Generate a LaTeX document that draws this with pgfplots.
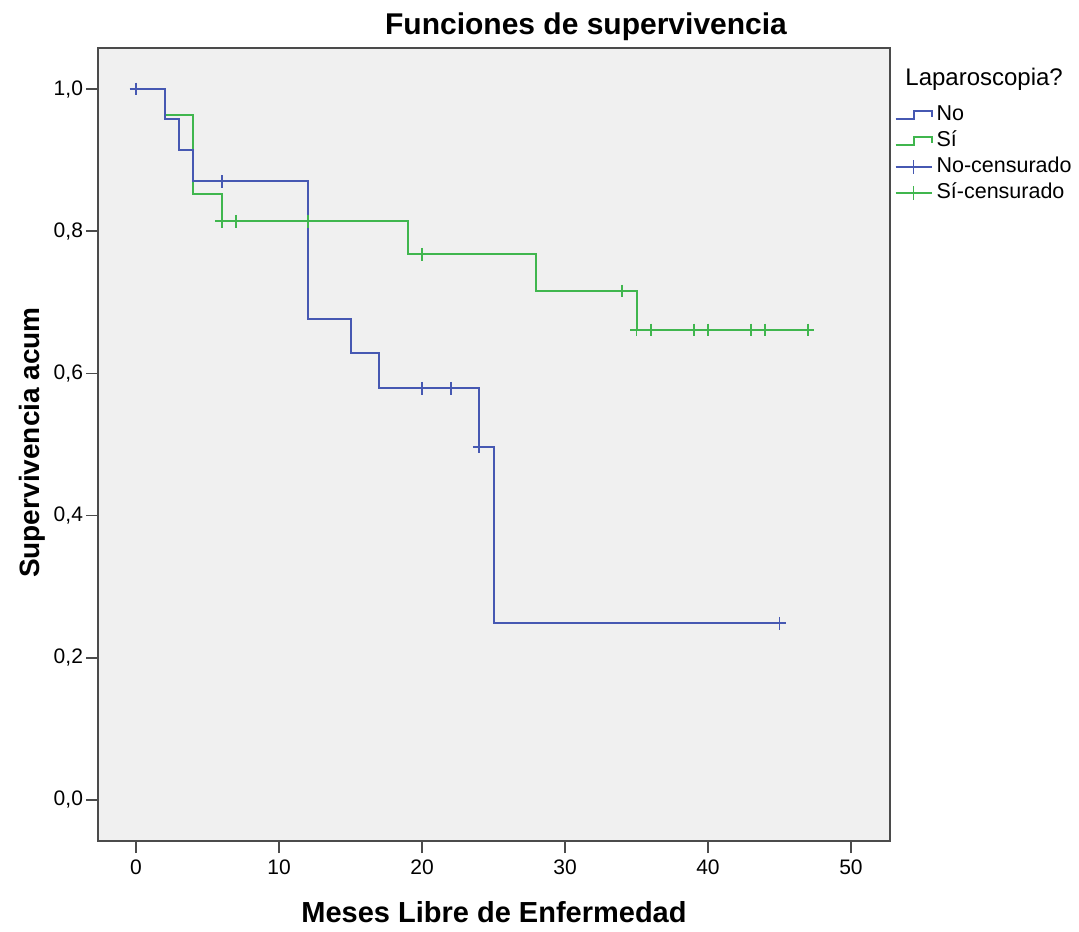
\documentclass[border=0pt]{standalone}
\usepackage{fontspec}
\setmainfont{Liberation Sans}
\usepackage{pgfplots}
\pgfplotsset{compat=1.18}
\definecolor{kmblue}{RGB}{70,88,178}
\definecolor{kmgreen}{RGB}{64,182,78}
\definecolor{bgc}{RGB}{240,240,240}
\definecolor{framec}{RGB}{75,75,75}
\pgfplotsset{
  steplegend/.style={legend image code/.code={\draw[##1] (0pt,-2pt) -- (9pt,-2pt) -- (9pt,2pt) -- (18pt,2pt) -- (18pt,-1pt);}},
  censlegend/.style={legend image code/.code={\draw[##1] (0pt,0pt) -- (18pt,0pt); \draw[##1] (9pt,-3.5pt) -- (9pt,3.5pt);}},
}
\begin{document}
\begin{tikzpicture}
\path[use as bounding box, fill=white] (0,0) rectangle (539.5pt,465.5pt);
\begin{axis}[
  at={(49pt,45pt)}, anchor=south west,
  scale only axis, width=396pt, height=396.5pt,
  xmin=-2.66, xmax=52.73, ymin=-0.0577, ymax=1.0577,
  xtick={0,10,20,30,40,50}, ytick={0,0.2,0.4,0.6,0.8,1.0},
  xtick pos=bottom, ytick pos=left,
  tick align=outside, major tick length=6pt,
  tick style={framec, line width=0.8pt},
  axis line style={framec, line width=1.3pt},
  axis background/.style={fill=bgc},
  ticklabel style={font=\fontsize{10.5}{12}\selectfont},
  yticklabel style={xshift=2pt},
  /pgf/number format/assume math mode=true,
  yticklabel style={/pgf/number format/.cd, fixed, fixed zerofill, precision=1, use comma},
  legend style={at={(1.006,0.932)}, anchor=north west, draw=none, fill=none,
    inner sep=0pt, outer sep=0pt, font=\fontsize{10.75}{12}\selectfont,
    row sep=0pt, column sep=0.5pt,
    nodes={inner sep=1.5pt, text height=8pt, text depth=2pt}},
  legend cell align=left,
]
\addplot[kmgreen, line width=1pt, const plot, forget plot] coordinates {
 (0,1) (2,0.963) (4,0.852) (6,0.814) (19,0.7675) (28,0.716) (35,0.661) (47,0.661)};
\addplot[kmblue, line width=1pt, const plot, forget plot] coordinates {
 (0,1) (2,0.958) (3,0.914) (4,0.870) (12,0.676) (15,0.629) (17,0.579) (24,0.497) (25,0.2485) (45,0.2485)};
\addplot[kmgreen, only marks, mark=+, mark size=3.2pt, line width=0.9pt, forget plot] coordinates {
 (6,0.814) (7,0.814) (12,0.814) (20,0.7675) (34,0.716) (35,0.661) (36,0.661) (39,0.661) (40,0.661) (43,0.661) (44,0.661) (47,0.661)};
\addplot[kmblue, only marks, mark=+, mark size=3.2pt, line width=0.9pt, forget plot] coordinates {
 (0,1) (6,0.870) (20,0.579) (22,0.579) (24,0.497) (45,0.2485)};
\addlegendimage{kmblue, line width=0.9pt, steplegend}
\addlegendentry{No}
\addlegendimage{kmgreen, line width=0.9pt, steplegend}
\addlegendentry{Sí}
\addlegendimage{kmblue, line width=0.8pt, censlegend}
\addlegendentry{No-censurado}
\addlegendimage{kmgreen, line width=0.8pt, censlegend}
\addlegendentry{Sí-censurado}
\end{axis}
\node[anchor=base west, font=\fontsize{12}{14}\selectfont, inner sep=0pt] at (452.5pt,422.5pt) {Laparoscopia?};
\node[anchor=base, font=\bfseries\fontsize{15}{18}\selectfont, inner sep=0pt] at (293pt,448pt) {Funciones de supervivencia};
\node[anchor=base, font=\bfseries\fontsize{14.5}{17}\selectfont, inner sep=0pt] at (247pt,4.5pt) {Meses Libre de Enfermedad};
\node[anchor=base, rotate=90, font=\bfseries\fontsize{14}{17}\selectfont, inner sep=0pt] at (19.5pt,244.25pt) {Supervivencia acum};
\end{tikzpicture}
\end{document}
